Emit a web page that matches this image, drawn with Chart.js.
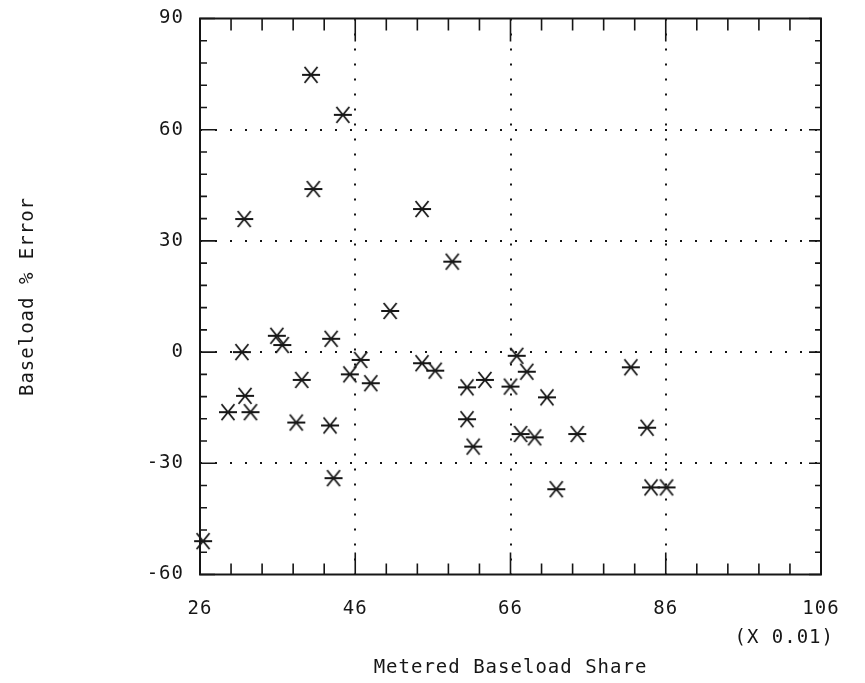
<!DOCTYPE html>
<html>
<head>
<meta charset="utf-8">
<title>Baseload % Error</title>
<script src="https://cdn.jsdelivr.net/npm/chart.js@4.4.0/dist/chart.umd.min.js"></script>
<style>
    body { margin: 0; background: #fff; }
    canvas { display: block; }
</style>
</head>
<body>
<canvas id="grafico" width="865" height="683"></canvas>
<script>
// DATOS
var participacion = [26.4, 29.6, 31.4, 31.7, 31.8, 32.5, 35.9, 36.6, 38.4, 39.1,
    40.3, 40.6, 42.9, 42.75, 43.2, 44.4, 45.3, 46.7, 48.0, 50.5,
    54.6, 54.6, 56.3, 58.5, 60.4, 62.7, 60.4, 61.2, 66.0, 66.8,
    68.1, 70.7, 67.3, 69.1, 74.6, 71.9, 81.5, 83.6, 84.1, 86.1];
var errorBase = [-51.0, -16.2, 0.0, 35.9, -11.8, -16.2, 4.4, 1.9, -19.0, -7.5,
    74.8, 44.0, 3.6, -19.8, -34.0, 64.0, -6.0, -2.1, -8.4, 11.1,
    38.6, -3.0, -5.0, 24.4, -9.5, -7.5, -18.1, -25.5, -9.3, -1.0,
    -5.3, -12.2, -22.1, -23.0, -22.1, -37.0, -4.1, -20.4, -36.5, -36.5];
var ticksX = [26, 46, 66, 86, 106];
var ticksY = [-60, -30, 0, 30, 60, 90];
var etiquetaX = 'Metered Baseload Share';
var etiquetaY = 'Baseload % Error';
var escalaX = '(X 0.01)';

var fuente = 'DejaVu Sans Mono';
var tamano = 19;
var tinta = '#161616';
var espaciado = '1px';

function crearAsterisco() {
    var c = document.createElement('canvas');
    c.width = 22;
    c.height = 22;
    var g = c.getContext('2d');
    g.strokeStyle = tinta;
    g.lineWidth = 1.8;
    g.beginPath();
    g.moveTo(2, 11); g.lineTo(20, 11);
    g.moveTo(4.5, 3); g.lineTo(17.5, 19);
    g.moveTo(4.5, 19); g.lineTo(17.5, 3);
    g.stroke();
    return c;
}

function esMayor(lista, valor) {
    return lista.indexOf(valor) >= 0;
}

// marco, marcas hacia dentro y texto de escala
var marco = {
    id: 'marco',
    beforeUpdate: function (chart) { chart.ctx.letterSpacing = espaciado; },
    beforeLayout: function (chart) { chart.ctx.letterSpacing = espaciado; },
    beforeDraw: function (chart) {
        var ctx = chart.ctx;
        ctx.save();
        ctx.fillStyle = '#fff';
        ctx.fillRect(0, 0, chart.width, chart.height);
        ctx.restore();
        ctx.letterSpacing = espaciado;
    },
    afterDraw: function (chart) {
        var ctx = chart.ctx;
        var a = chart.chartArea;
        var x = chart.scales.x;
        var y = chart.scales.y;
        ctx.save();
        ctx.strokeStyle = tinta;
        ctx.lineWidth = 2;
        ctx.strokeRect(a.left, a.top, a.right - a.left, a.bottom - a.top);
        ctx.lineWidth = 1.6;
        ctx.beginPath();
        x.ticks.forEach(function (t) {
            var px = x.getPixelForValue(t.value);
            var mayor = esMayor(ticksX, t.value);
            ctx.moveTo(px, a.bottom);
            ctx.lineTo(px, a.bottom - (mayor ? 22 : 11));
            ctx.moveTo(px, a.top);
            ctx.lineTo(px, a.top + (mayor ? 23 : 12));
        });
        y.ticks.forEach(function (t) {
            var py = y.getPixelForValue(t.value);
            var mayor = esMayor(ticksY, t.value);
            ctx.moveTo(a.left, py);
            ctx.lineTo(a.left + (mayor ? 15 : 7), py);
            ctx.moveTo(a.right, py);
            ctx.lineTo(a.right - (mayor ? 12 : 6), py);
        });
        ctx.stroke();
        ctx.fillStyle = tinta;
        ctx.font = tamano + 'px "' + fuente + '"';
        ctx.letterSpacing = espaciado;
        ctx.textAlign = 'right';
        ctx.textBaseline = 'middle';
        ctx.fillText(escalaX, 834, 638);
        ctx.restore();
    }
};

var puntos = participacion.map(function (v, i) {
    return { x: v, y: errorBase[i] };
});

var configuracion = {
    type: 'scatter',
    data: {
        datasets: [{
            data: puntos,
            pointStyle: crearAsterisco(),
            clip: false
        }]
    },
    options: {
        responsive: false,
        devicePixelRatio: 1,
        animation: false,
        events: [],
        layout: { padding: { top: 18.5, right: 44, bottom: 0, left: 0 } },
        plugins: { legend: { display: false }, tooltip: { enabled: false } },
        scales: {
            x: {
                type: 'linear',
                min: 26,
                max: 106,
                afterFit: function (s) {
                    s.height = 108.5;
                    s.paddingLeft = 0;
                    s.paddingRight = 0;
                },
                grid: {
                    drawTicks: false,
                    lineWidth: 2,
                    color: function (c) {
                        var v = c.tick ? c.tick.value : null;
                        return (esMayor(ticksX, v) && v > 26 && v < 106) ? tinta : 'rgba(0,0,0,0)';
                    }
                },
                border: { display: false, dash: [2, 13] },
                ticks: {
                    stepSize: 4,
                    autoSkip: false,
                    maxRotation: 0,
                    padding: 23,
                    color: tinta,
                    font: { family: fuente, size: tamano },
                    callback: function (v) { return esMayor(ticksX, v) ? String(v) : ''; }
                },
                title: {
                    display: true,
                    text: etiquetaX,
                    color: tinta,
                    font: { family: fuente, size: tamano },
                    padding: { top: 0, bottom: 4 }
                }
            },
            y: {
                type: 'linear',
                min: -60,
                max: 90,
                afterFit: function (s) {
                    s.width = 200;
                    s.paddingTop = 0;
                    s.paddingBottom = 0;
                },
                grid: {
                    drawTicks: false,
                    lineWidth: 2,
                    color: function (c) {
                        var v = c.tick ? c.tick.value : null;
                        return (esMayor(ticksY, v) && v > -60 && v < 90) ? tinta : 'rgba(0,0,0,0)';
                    }
                },
                border: { display: false, dash: [2, 13] },
                ticks: {
                    stepSize: 6,
                    autoSkip: false,
                    padding: 16,
                    color: tinta,
                    font: { family: fuente, size: tamano },
                    callback: function (v) { return esMayor(ticksY, v) ? String(v) : ''; }
                },
                title: {
                    display: true,
                    text: etiquetaY,
                    color: tinta,
                    font: { family: fuente, size: tamano },
                    padding: { top: 17, bottom: 0 }
                }
            }
        }
    },
    plugins: [marco]
};

var miGrafico = new Chart(document.getElementById('grafico').getContext('2d'), configuracion);
</script>
</body>
</html>
